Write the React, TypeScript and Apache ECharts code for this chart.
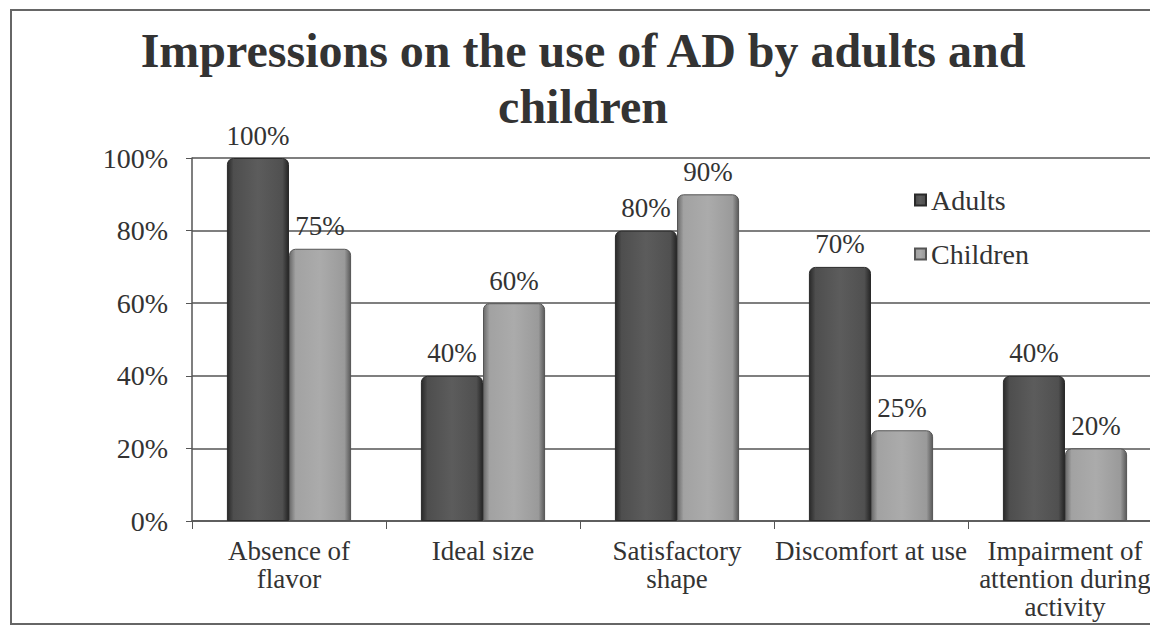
import React, { useEffect, useRef } from "react";
import * as echarts from "echarts";

const categories = [
  "Absence of\nflavor",
  "Ideal size",
  "Satisfactory\nshape",
  "Discomfort at use",
  "Impairment of\nattention during\nactivity",
];
const adults = [100, 40, 80, 70, 40];
const children = [75, 60, 90, 25, 20];
const yTicks = { min: 0, max: 100, interval: 20 };

const FONT = "Liberation Serif";

const darkGrad = new echarts.graphic.LinearGradient(0, 0, 1, 0, [
  { offset: 0, color: "#2a2a2a" },
  { offset: 0.1, color: "#4e4e4e" },
  { offset: 0.5, color: "#5c5c5c" },
  { offset: 0.9, color: "#505050" },
  { offset: 1, color: "#262626" },
]);
const lightGrad = new echarts.graphic.LinearGradient(0, 0, 1, 0, [
  { offset: 0, color: "#6a6a6a" },
  { offset: 0.1, color: "#a2a2a2" },
  { offset: 0.5, color: "#ababab" },
  { offset: 0.9, color: "#9a9a9a" },
  { offset: 1, color: "#5a5a5a" },
]);

export default function App() {
  const ref = useRef<HTMLDivElement>(null);
  useEffect(() => {
    if (!ref.current) return;
    const chart = echarts.init(ref.current, undefined, { renderer: "svg" });
    const labelStyle = {
      show: true,
      position: "top" as const,
      distance: 9,
      formatter: "{c}%",
      fontFamily: FONT,
      fontSize: 27,
      color: "#333",
    };
    chart.setOption({
      animation: false,
      backgroundColor: "#fff",
      textStyle: { fontFamily: FONT },
      title: {
        text: "Impressions on the use of AD by adults and\nchildren",
        left: 578,
        top: 17,
        textAlign: "center",
        textStyle: {
          fontFamily: FONT,
          fontSize: 48,
          fontWeight: "bold",
          color: "#333",
          lineHeight: 56,
          align: "center",
        },
      },
      graphic: [
        {
          type: "rect",
          shape: { x: 11, y: 10, width: 1160, height: 614 },
          style: { fill: "none", stroke: "#666", lineWidth: 2 },
          silent: true,
        },
      ],
      legend: {
        orient: "vertical",
        left: 909,
        top: 181,
        icon: "rect",
        itemWidth: 11,
        itemHeight: 11,
        itemGap: 26,
        textStyle: { fontFamily: FONT, fontSize: 28, color: "#333" },
        data: ["Adults", "Children"],
      },
      grid: { left: 192, top: 158, width: 970, height: 363, containLabel: false },
      xAxis: {
        type: "category",
        data: categories,
        axisLine: { lineStyle: { color: "#555", width: 1.5 } },
        axisTick: { show: true, length: 8, lineStyle: { color: "#555" } },
        axisLabel: {
          fontFamily: FONT,
          fontSize: 27,
          color: "#333",
          lineHeight: 28,
          margin: 16,
          interval: 0,
        },
      },
      yAxis: {
        type: "value",
        min: yTicks.min,
        max: yTicks.max,
        interval: yTicks.interval,
        axisLine: { show: true, lineStyle: { color: "#555", width: 1.5 } },
        axisTick: { show: true, length: 6, lineStyle: { color: "#555" } },
        axisLabel: {
          formatter: "{value}%",
          fontFamily: FONT,
          fontSize: 28,
          color: "#333",
          margin: 24,
        },
        splitLine: { lineStyle: { color: "#555", width: 1.5 } },
      },
      series: [
        {
          name: "Adults",
          type: "bar",
          data: adults,
          barGap: "0%",
          barCategoryGap: "36%",
          itemStyle: {
            color: darkGrad,
            borderRadius: [6, 6, 0, 0],
            borderColor: "#2a2a2a",
            borderWidth: 1,
          },
          label: labelStyle,
        },
        {
          name: "Children",
          type: "bar",
          data: children,
          itemStyle: {
            color: lightGrad,
            borderRadius: [6, 6, 0, 0],
            borderColor: "#555",
            borderWidth: 1,
          },
          label: labelStyle,
        },
      ],
    });
    return () => chart.dispose();
  }, []);
  return (
    <div style={{ position: "fixed", left: 0, top: 0, width: 1150, height: 628, overflow: "hidden" }}>
      <div ref={ref} style={{ width: 1172, height: 628 }} />
    </div>
  );
}
